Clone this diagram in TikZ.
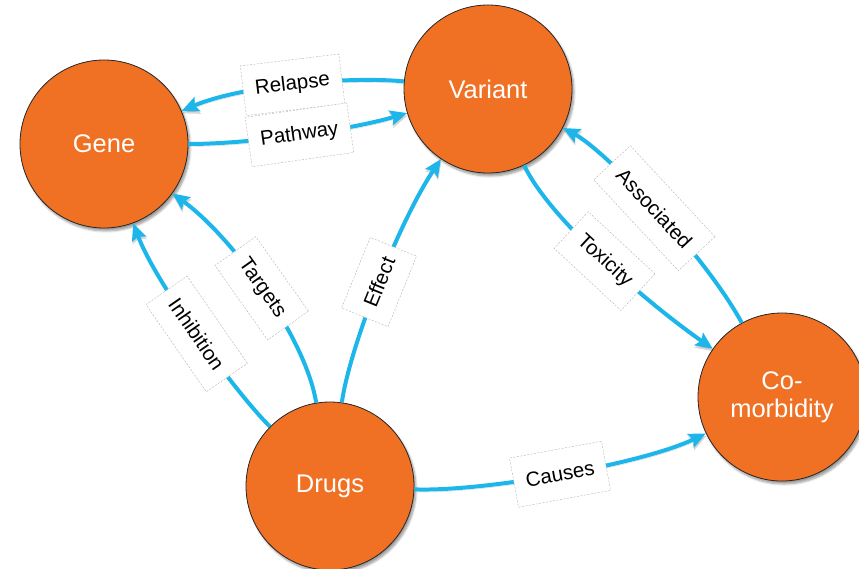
\documentclass[tikz,border=0pt]{standalone}
\usepackage{fontspec}
\setmainfont{Liberation Sans}
\usetikzlibrary{arrows.meta,shadows.blur}
\definecolor{nodeorange}{RGB}{240,113,35}
\definecolor{linkblue}{RGB}{28,182,235}
\begin{document}
\begin{tikzpicture}[x=1pt,y=-1pt,
  entity/.style={circle, minimum size=168pt, inner sep=0pt, fill=nodeorange,
    draw=black!85, line width=0.8pt, text=white, align=center,
    font=\fontsize{25.5}{28}\selectfont,
    blur shadow={shadow xshift=2pt, shadow yshift=-3pt, shadow blur steps=6, shadow opacity=40}},
  link/.style={draw=linkblue, line width=4pt,
    -{Stealth[length=17pt,width=15pt,inset=3pt]},
    preaction={draw=black, opacity=0.16, transform canvas={xshift=0.5pt,yshift=-2.5pt}}},
  tag/.style={fill=white, draw=black!30, dash pattern=on 2pt off 1.5pt,
    line width=0.4pt, minimum height=50pt, inner xsep=12pt, sloped,
    font=\fontsize{20.5}{23}\selectfont, text=black},
]
\useasboundingbox (0,0) rectangle (859,568);

% entities
\node[entity] (gene)   at (104,144) {Gene};
\node[entity] (var)    at (488,89)  {Variant};
\node[entity] (comorb) at (782,397) {Co-\\morbidity};
\node[entity] (drugs)  at (330,486) {Drugs};

% relations
\draw[link] (var) .. controls (345,76) and (240,86) .. (gene)
  node[tag, pos=0.5] {Relapse};
\draw[link] (gene) .. controls (250,144) and (350,130) .. (var)
  node[tag, pos=0.5] {Pathway};
\draw[link] (drugs) .. controls (235,392) and (155,282) .. (gene)
  node[tag, pos=0.5] {Inhibition};
\draw[link] (drugs) .. controls (305,335) and (230,235) .. (gene)
  node[tag, pos=0.5] {Targets};
\draw[link] (drugs) .. controls (350,345) and (400,220) .. (var)
  node[tag, pos=0.5] {Effect};
\draw[link] (var) .. controls (550,220) and (650,305) .. (comorb)
  node[tag, pos=0.5] {Toxicity};
\draw[link] (comorb) .. controls (705,255) and (605,150) .. (var)
  node[tag, pos=0.5] {Associated};
\draw[link] (drugs) .. controls (480,492) and (640,465) .. (comorb)
  node[tag, pos=0.5] {Causes};
\end{tikzpicture}
\end{document}
